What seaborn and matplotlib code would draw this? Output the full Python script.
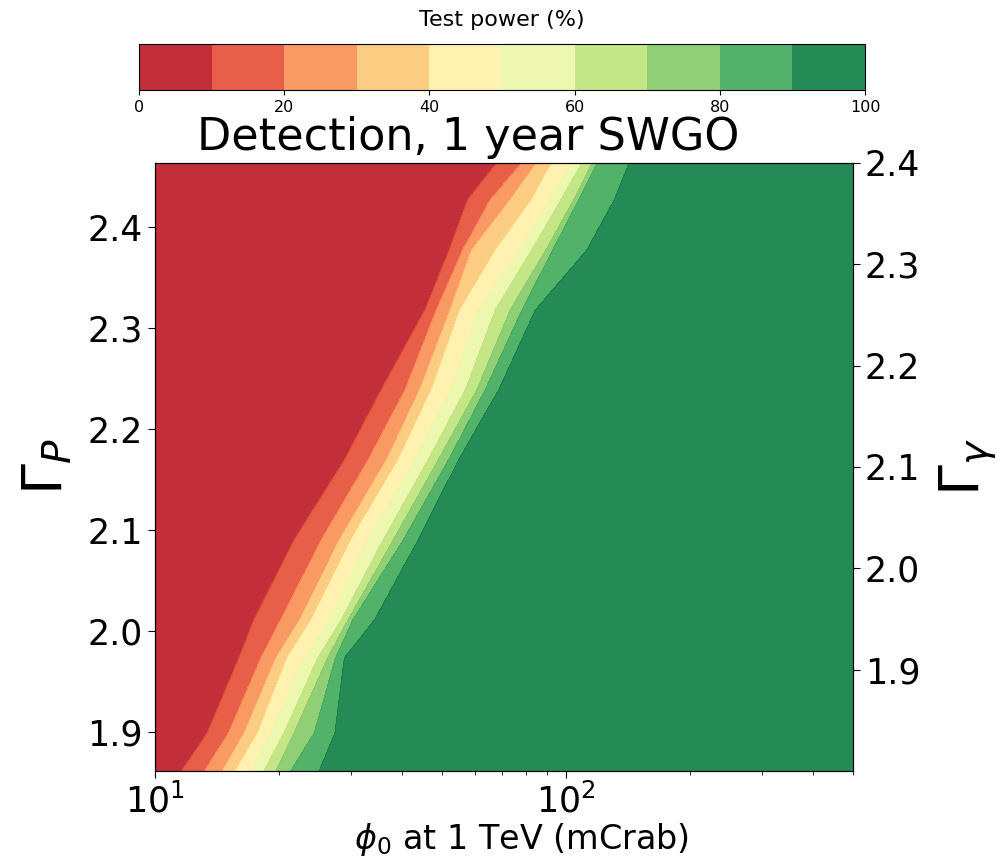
import numpy as np
import matplotlib
matplotlib.use("Agg")
import matplotlib.pyplot as plt
import seaborn as sns

sns.set_style("ticks")
plt.rcParams['font.family'] = ['DejaVu Sans']
plt.rcParams.update({
    "text.color": "black", "axes.labelcolor": "black",
    "xtick.color": "black", "ytick.color": "black",
    "axes.edgecolor": "black",
})

# ---- data ----
# spectral index rows (left axis, Gamma_P), bottom -> top
gamma_p = [1.8614, 1.899, 1.9733, 2.0109, 2.0901, 2.1693, 2.2386, 2.3178, 2.3772, 2.4267, 2.4634]
# flux at 1 TeV (mCrab) at which the test power reaches each level, per row
flux_p10 = [11.6, 13.4, 16.0, 17.4, 21.8, 28.9, 35.5, 45.4, 52.0, 57.6, 67.8]
flux_p20 = [13.2, 15.1, 18.1, 20.2, 25.4, 33.0, 40.6, 48.4, 56.1, 65.4, 78.1]
flux_p30 = [14.6, 16.5, 19.7, 22.5, 28.1, 36.6, 44.1, 52.3, 59.0, 73.2, 84.9]
flux_p40 = [15.7, 17.8, 21.0, 24.0, 30.0, 39.1, 47.1, 55.3, 67.5, 82.6, 92.4]
flux_p50 = [17.1, 19.1, 23.1, 26.6, 33.0, 42.9, 52.3, 61.3, 77.2, 91.4, 103.4]
flux_p60 = [18.4, 20.6, 24.9, 28.4, 35.9, 46.2, 56.9, 67.3, 82.6, 97.2, 109.4]
flux_p70 = [19.7, 21.8, 26.3, 29.5, 38.0, 48.9, 60.7, 73.2, 89.4, 104.4, 115.8]
flux_p80 = [21.4, 24.4, 27.5, 30.3, 40.2, 51.8, 63.6, 78.2, 92.9, 107.4, 119.1]
flux_p90 = [25.1, 27.4, 28.9, 34.2, 43.7, 54.8, 68.6, 84.3, 112.5, 131.1, 142.6]
flux_min, flux_max = 10.0, 500.0
power_levels = [0, 10, 20, 30, 40, 50, 60, 70, 80, 90, 100]
cbar_ticks = [0, 20, 40, 60, 80, 100]
right_ylim = (1.80, 2.40)
right_ticks = [1.9, 2.0, 2.1, 2.2, 2.3, 2.4]
left_ticks = [1.9, 2.0, 2.1, 2.2, 2.3, 2.4]

# ---- build grid ----
n = len(gamma_p)
cross = [flux_p10, flux_p20, flux_p30, flux_p40, flux_p50,
         flux_p60, flux_p70, flux_p80, flux_p90]
X = np.column_stack([np.full(n, flux_min)] + [np.asarray(c) for c in cross]
                    + [np.full(n, flux_max)])
Y = np.tile(np.asarray(gamma_p)[:, None], (1, X.shape[1]))
Z = np.tile(np.asarray(power_levels, dtype=float)[None, :], (n, 1))

cmap = sns.color_palette("RdYlGn", as_cmap=True)

fig = plt.figure(figsize=(9.97, 8.6), dpi=100)
ax = fig.add_axes([155/997, 1-771/860, 698/997, 608/860])
cax = fig.add_axes([139/997, 1-90/860, 726/997, 46/860])

cs = ax.contourf(X, Y, Z, levels=power_levels, cmap=cmap, alpha=0.9)
ax.set_xscale("log")
ax.set_xlim(flux_min, flux_max)
ax.set_ylim(gamma_p[0], gamma_p[-1])
ax.set_yticks(left_ticks)
ax.set_yticklabels([f"{t:.1f}" for t in left_ticks])
ax.tick_params(axis="both", which="major", labelsize=25, length=5)
ax.tick_params(axis="x", which="minor", length=3)
ax.set_xlabel(r"$\phi_0$ at 1 TeV (mCrab)", fontsize=24)
ax.xaxis.set_label_coords((522-155)/698, -0.083)
ax.set_ylabel(r"$\Gamma_P$", fontsize=40, labelpad=10)

ax2 = ax.twinx()
ax2.set_ylim(*right_ylim)
ax2.set_yticks(right_ticks)
ax2.set_yticklabels([f"{t:.1f}" for t in right_ticks])
ax2.tick_params(axis="y", labelsize=25, length=5)
ax2.set_ylabel(r"$\Gamma_\gamma$", fontsize=40, labelpad=12)

cb = fig.colorbar(cs, cax=cax, orientation="horizontal", ticks=cbar_ticks)
cb.ax.tick_params(labelsize=11.5)
cb.set_label("Test power (%)", fontsize=16, labelpad=13)
cb.ax.xaxis.set_label_position("top")

fig.text(468/997, 1-150/860, "Detection, 1 year SWGO", fontsize=32,
         ha="center", va="baseline")

fig.savefig("out.png", dpi=100)
